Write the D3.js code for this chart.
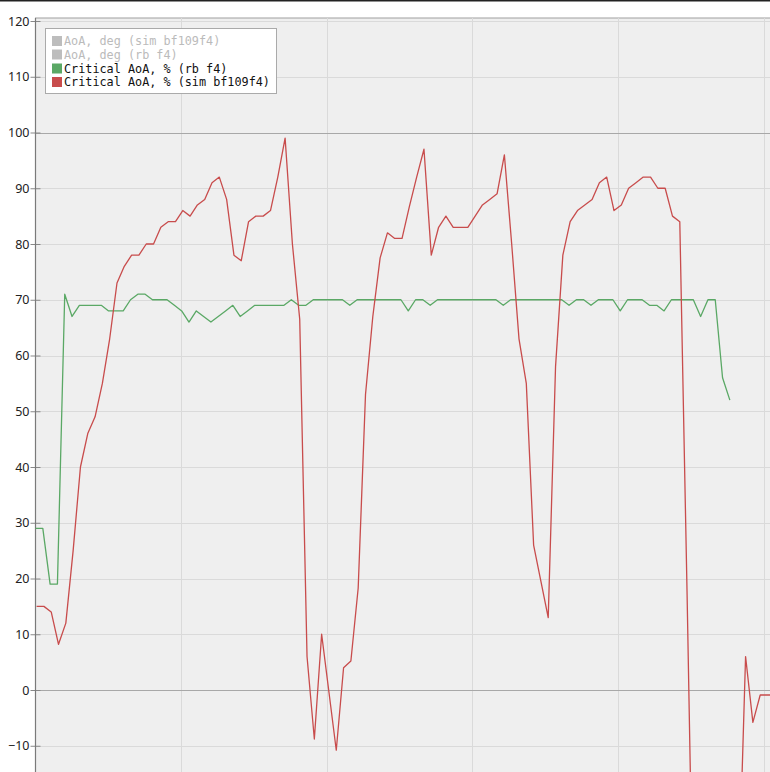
<!DOCTYPE html>
<html>
<head>
<meta charset="utf-8">
<script src="https://cdn.jsdelivr.net/npm/d3@7"></script>
<style>
  html, body { margin: 0; padding: 0; background: #ffffff; }
  svg { display: block; }
</style>
</head>
<body>
<svg id="chart" width="770" height="772"></svg>
<script>
// ---- data ----
const seriesNames = [
  "AoA, deg (sim bf109f4)",
  "AoA, deg (rb f4)",
  "Critical AoA, % (rb f4)",
  "Critical AoA, % (sim bf109f4)"
];
const seriesVisible = [false, false, true, true];

// sample period and start times (time units)
const sampleDt = 1.004;
const greenStart = 0;
const redStart = 0.15;

const criticalAoaRb = [
  29, 29, 19, 19, 71, 67, 69, 69, 69, 69,
  68, 68, 68, 70, 71, 71, 70, 70, 70, 69,
  68, 66, 68, 67, 66, 67, 68, 69, 67, 68,
  69, 69, 69, 69, 69, 70, 69, 69, 70, 70,
  70, 70, 70, 69, 70, 70, 70, 70, 70, 70,
  70, 68, 70, 70, 69, 70, 70, 70, 70, 70,
  70, 70, 70, 70, 69, 70, 70, 70, 70, 70,
  70, 70, 70, 69, 70, 70, 69, 70, 70, 70,
  68, 70, 70, 70, 69, 69, 68, 70, 70, 70,
  70, 67, 70, 70, 56, 52
];

const criticalAoaSim = [
  15, 15, 14, 8.2, 12, 25, 40, 46, 49, 55,
  63, 73, 76, 78, 78, 80, 80, 83, 84, 84,
  86, 85, 87, 88, 91, 92, 88, 78, 77, 84,
  85, 85, 86, 92, 99, 80, 66.5, 6, -8.8, 10,
  -0.4, -10.8, 4, 5.2, 18.3, 53, 67, 77.5, 82, 81,
  81, 86.7, 92, 97, 78, 83, 85, 83, 83, 83,
  85, 87, 88, 89, 96, 80, 63, 55, 26, 19.5,
  13, 58, 78, 84, 86, 87, 88, 91, 92, 86,
  87, 90, 91, 92, 92, 90, 90, 85, 84, 17,
  -55, -60, -62, -60, -55, -48, -38, 6, -5.8, -0.9,
  -0.9, -0.9
];

const yTicks = [-10, 0, 10, 20, 30, 40, 50, 60, 70, 80, 90, 100, 110, 120];
const xGridTicks = [20, 40, 60, 80, 100];
const emphasisLines = [0, 100];

const colors = ["#bdbdbd", "#bdbdbd", "#5aa865", "#c84c4c"];

// ---- layout ----
const W = 770, H = 772;
const plotLeft = 35.5, plotTop = 18;

const svg = d3.select("#chart");

const x = d3.scaleLinear().domain([0, 100]).range([plotLeft, plotLeft + 728]);
const y = d3.scaleLinear().domain([-20, 120]).range([801.5, 21]);

// top dark strip
svg.append("rect").attr("x", 0).attr("y", 0).attr("width", W).attr("height", 1.5).attr("fill", "#222");

// plot background
svg.append("rect")
  .attr("x", plotLeft).attr("y", plotTop)
  .attr("width", W - plotLeft + 10).attr("height", H - plotTop + 10)
  .attr("fill", "#efefef")
  .attr("stroke", "#a0a0a0").attr("stroke-width", 1);

// horizontal grid
svg.append("g").selectAll("line")
  .data(yTicks.filter(d => !emphasisLines.includes(d)))
  .join("line")
  .attr("x1", plotLeft).attr("x2", W)
  .attr("y1", d => Math.round(y(d)) + 0.5).attr("y2", d => Math.round(y(d)) + 0.5)
  .attr("stroke", "#dadada").attr("stroke-width", 1);

// vertical grid
svg.append("g").selectAll("line")
  .data(xGridTicks)
  .join("line")
  .attr("x1", d => Math.round(x(d)) + 0.5).attr("x2", d => Math.round(x(d)) + 0.5)
  .attr("y1", plotTop).attr("y2", H)
  .attr("stroke", "#dadada").attr("stroke-width", 1);

// emphasis lines at 0 and 100
svg.append("g").selectAll("line")
  .data(emphasisLines)
  .join("line")
  .attr("x1", plotLeft).attr("x2", W)
  .attr("y1", d => Math.round(y(d)) + 0.5).attr("y2", d => Math.round(y(d)) + 0.5)
  .attr("stroke", "#a8a8a8").attr("stroke-width", 1.2);

// y axis
const yAxis = d3.axisLeft(y).tickValues(yTicks).tickSize(5).tickPadding(4).tickFormat(d3.format("d"));
const gy = svg.append("g").attr("transform", `translate(${plotLeft},0)`).call(yAxis);
gy.select(".domain").remove();
gy.selectAll(".tick line").attr("stroke", "#888").attr("x2", 5).attr("x1", -5);
gy.selectAll(".tick text")
  .attr("font-family", "'Noto Sans', 'Open Sans', sans-serif")
  .attr("font-size", 12.5)
  .attr("fill", "#222")
  .attr("x", -6);
svg.append("line")
  .attr("x1", plotLeft).attr("x2", plotLeft)
  .attr("y1", plotTop).attr("y2", H)
  .attr("stroke", "#7a7a7a").attr("stroke-width", 1.2);

// lines
const lineGen = d3.line().x(d => x(d.t)).y(d => y(d.v));
const greenData = criticalAoaRb.map((v, i) => ({ t: greenStart + i * sampleDt, v }));
const redData = criticalAoaSim.map((v, i) => ({ t: redStart + i * sampleDt, v }));

svg.append("path").datum(greenData)
  .attr("d", lineGen).attr("fill", "none")
  .attr("stroke", colors[2]).attr("stroke-width", 1.3).attr("stroke-linejoin", "round");
svg.append("path").datum(redData)
  .attr("d", lineGen).attr("fill", "none")
  .attr("stroke", colors[3]).attr("stroke-width", 1.3).attr("stroke-linejoin", "round");

// legend
const lg = svg.append("g");
lg.append("rect")
  .attr("x", 45.5).attr("y", 28.5).attr("width", 231).attr("height", 65)
  .attr("fill", "#ffffff").attr("stroke", "#aaaaaa").attr("stroke-width", 1);
const entryY = [41, 54.5, 68.5, 82];
seriesNames.forEach((name, i) => {
  lg.append("rect")
    .attr("x", 52).attr("y", entryY[i] - 5).attr("width", 10).attr("height", 10)
    .attr("fill", colors[i]);
  lg.append("text")
    .attr("x", 64).attr("y", entryY[i]).attr("dy", "0.35em")
    .attr("font-family", "'DejaVu Sans Mono', monospace")
    .attr("font-size", 11.8)
    .attr("fill", seriesVisible[i] ? "#111" : "#bbbbbb")
    .text(name);
});
</script>
</body>
</html>
